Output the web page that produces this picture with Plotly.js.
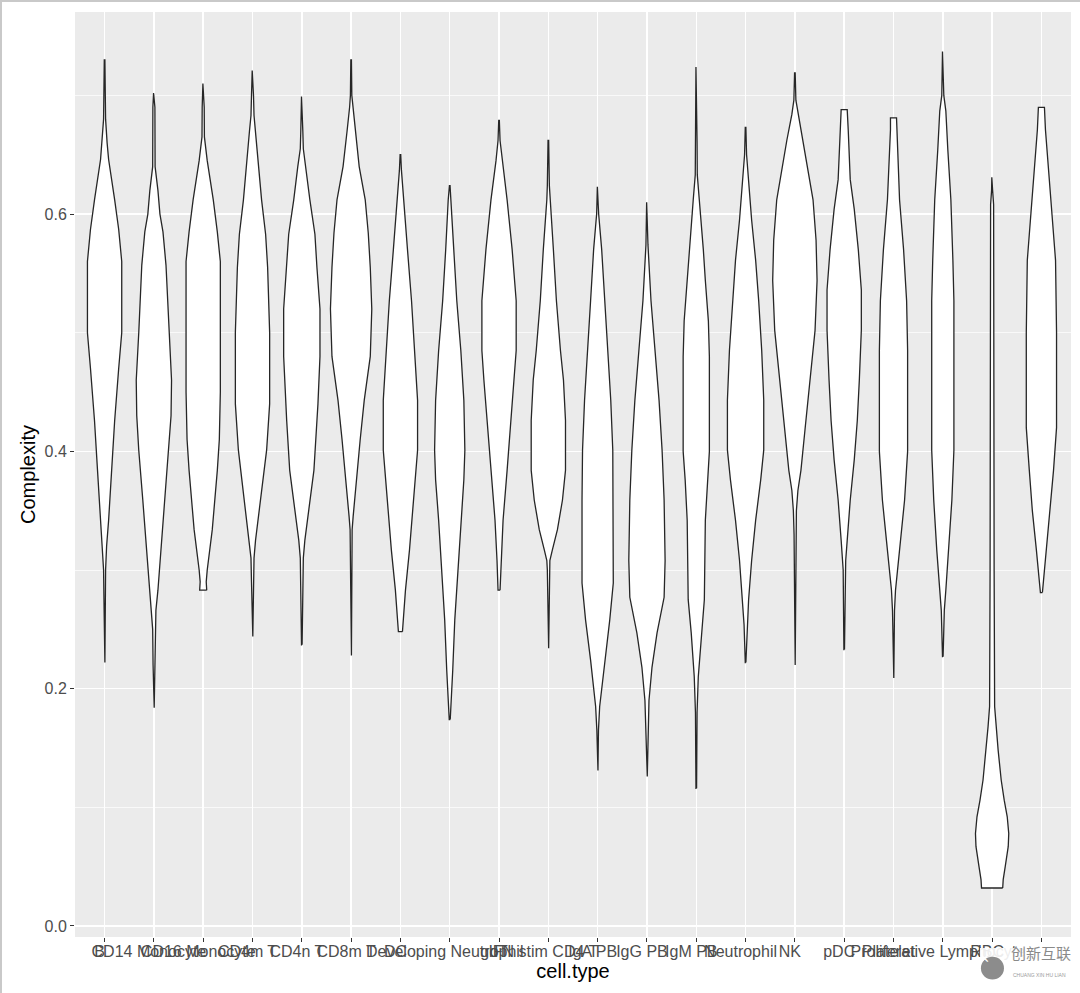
<!DOCTYPE html>
<html>
<head>
<meta charset="utf-8">
<script src="https://cdn.plot.ly/plotly-3.0.1.min.js"></script>
<style>
  html, body { margin: 0; padding: 0; background: #fff; }
  #chart { width: 1080px; height: 993px; position: relative; }
  #frame { position: absolute; left: 0; top: 0; width: 1080px; height: 993px;
           border-left: 2px solid #c9c9c9; border-top: 2px solid #c9c9c9;
           box-sizing: border-box; pointer-events: none; z-index: 10; }
</style>
</head>
<body>
<div id="chart"></div>
<div id="frame"></div>
<script>
// ---- data ----
const categories = ["B", "CD14 Monocyte", "CD16 Monocyte", "CD4m T", "CD4n T", "CD8m T", "DC",
  "Developing Neutrophil", "gdT", "IFN stim CD4 T", "IgA PB", "IgG PB", "IgM PB", "Neutrophil",
  "NK", "pDC", "Platelet", "Proliferative Lymphocyte", "RBC", "SC & Eosinophil"];

const yTickVals = [0, 0.2, 0.4, 0.6];
const yTickText = ["0.0", "0.2", "0.4", "0.6"];
const yMinorVals = [0.1, 0.3, 0.5, 0.7];

// Complexity levels (bottom -> top) for each violin outline
const profileLevels = [
  [0.222, 0.28, 0.30, 0.32, 0.342, 0.384, 0.426, 0.47, 0.50, 0.56, 0.587, 0.612, 0.646, 0.66, 0.68, 0.73],
  [0.184, 0.22, 0.25, 0.266, 0.283, 0.317, 0.359, 0.401, 0.43, 0.46, 0.50, 0.557, 0.585, 0.60, 0.62, 0.64, 0.69, 0.702],
  [0.283, 0.29, 0.30, 0.334, 0.384, 0.41, 0.45, 0.56, 0.585, 0.612, 0.645, 0.665, 0.69, 0.710],
  [0.244, 0.29, 0.31, 0.325, 0.359, 0.401, 0.44, 0.50, 0.555, 0.583, 0.612, 0.64, 0.67, 0.683, 0.70, 0.721],
  [0.237, 0.27, 0.31, 0.325, 0.359, 0.384, 0.426, 0.44, 0.48, 0.52, 0.555, 0.583, 0.612, 0.64, 0.655, 0.67, 0.699],
  [0.228, 0.30, 0.334, 0.345, 0.376, 0.41, 0.443, 0.48, 0.52, 0.555, 0.584, 0.612, 0.64, 0.67, 0.69, 0.70, 0.730],
  [0.248, 0.262, 0.283, 0.317, 0.359, 0.401, 0.443, 0.485, 0.527, 0.570, 0.612, 0.637, 0.650],
  [0.174, 0.19, 0.216, 0.258, 0.30, 0.342, 0.376, 0.401, 0.443, 0.485, 0.527, 0.570, 0.612, 0.624],
  [0.283, 0.308, 0.342, 0.384, 0.426, 0.46, 0.485, 0.527, 0.570, 0.612, 0.645, 0.662, 0.679],
  [0.234, 0.30, 0.308, 0.317, 0.334, 0.359, 0.384, 0.426, 0.46, 0.485, 0.527, 0.570, 0.612, 0.624, 0.662],
  [0.131, 0.165, 0.185, 0.199, 0.224, 0.258, 0.289, 0.359, 0.401, 0.443, 0.485, 0.527, 0.570, 0.60, 0.623],
  [0.126, 0.163, 0.19, 0.218, 0.247, 0.277, 0.308, 0.359, 0.401, 0.443, 0.485, 0.527, 0.574, 0.610],
  [0.116, 0.18, 0.21, 0.247, 0.275, 0.342, 0.376, 0.40, 0.48, 0.51, 0.544, 0.570, 0.612, 0.633, 0.66, 0.724],
  [0.222, 0.254, 0.275, 0.308, 0.342, 0.376, 0.401, 0.443, 0.485, 0.527, 0.561, 0.595, 0.629, 0.65, 0.673],
  [0.22, 0.33, 0.35, 0.367, 0.384, 0.418, 0.46, 0.502, 0.544, 0.578, 0.612, 0.637, 0.662, 0.684, 0.696, 0.719],
  [0.233, 0.30, 0.308, 0.325, 0.359, 0.393, 0.426, 0.46, 0.502, 0.536, 0.570, 0.604, 0.629, 0.671, 0.688],
  [0.209, 0.266, 0.283, 0.30, 0.325, 0.359, 0.40, 0.485, 0.527, 0.570, 0.612, 0.671, 0.681],
  [0.227, 0.266, 0.283, 0.317, 0.359, 0.401, 0.527, 0.561, 0.612, 0.654, 0.687, 0.700, 0.737],
  [0.032, 0.039, 0.050, 0.067, 0.078, 0.092, 0.106, 0.123, 0.148, 0.168, 0.185, 0.30, 0.608, 0.62, 0.631],
  [0.281, 0.30, 0.317, 0.35, 0.384, 0.42, 0.50, 0.561, 0.604, 0.637, 0.671, 0.690]
];

// relative density at each level (arbitrary units, same scale for all violins)
const profileDensity = [
  [0.3, 0.7, 1, 2, 4, 7, 10, 14, 17, 17, 14, 10, 4, 2.5, 1, 0.3],
  [0.3, 0.8, 1.2, 2, 4, 7, 11, 15, 17, 17.5, 15, 12, 9, 6, 4, 1.2, 1, 0.3],
  [3.5, 3, 4, 9, 14, 16, 17, 17, 14, 10, 4, 1.2, 1, 0.3],
  [0.3, 1, 1.5, 3, 8, 14, 17, 17, 15, 13, 9, 6, 3, 1.5, 1, 0.3],
  [0.3, 1, 1.5, 3, 8, 12, 15, 16, 18, 18, 15, 13, 8, 4, 1.5, 1, 0.3],
  [0.3, 0.7, 1, 2, 5, 9, 13, 19, 20.5, 19, 17, 14, 8, 4, 1.5, 0.7, 0.3],
  [2, 3, 5, 9, 13, 17, 17, 14, 11, 7, 3, 1, 0.3],
  [0.5, 1.5, 3, 5, 8, 11, 14, 15, 14, 11, 7, 4, 1.5, 0.3],
  [1, 2, 4, 8, 12, 15, 17, 17, 13, 8, 3, 1, 0.3],
  [0.3, 1, 1.5, 4, 9, 14, 17, 17, 15, 12, 8, 5, 1.5, 1, 0.3],
  [0.3, 0.8, 2, 4, 7, 12, 15.5, 15.5, 15, 13, 10, 7, 4, 1, 0.3],
  [0.3, 1, 2, 5, 10, 17, 18, 17, 15, 12, 8, 4, 1, 0.3],
  [0.3, 0.8, 2, 5, 8, 9, 11, 13, 13, 12, 9, 7, 3, 1, 0.8, 0.3],
  [0.3, 1.5, 3, 6, 10, 15, 18, 18, 16, 13, 10, 6, 3, 1, 0.3],
  [0.3, 0.8, 1.5, 3, 6, 10, 15, 20, 22, 21, 18, 13, 8, 3, 1, 0.3],
  [0.3, 1, 1.5, 3, 6, 10, 13, 15, 17, 17, 14, 10, 6, 4, 3],
  [0.3, 1, 2, 4, 7, 11, 14, 14, 13, 10, 6, 3, 3],
  [0.3, 1.5, 3, 6, 9, 11, 11, 10, 8, 5, 3, 1, 0.3],
  [10.5, 11, 13, 16, 16.5, 15, 12, 9, 6, 4, 2.5, 2, 1.5, 0.5, 0.3],
  [1, 3, 5, 9, 12, 15, 15, 14, 10, 7, 4, 3]
];

// ---- build violins ----
const maxHalf = 0.45; // ggplot violin width 0.9
let dMax = 0;
profileDensity.forEach(a => a.forEach(v => { if (v > dMax) dMax = v; }));

const traces = categories.map((cat, i) => {
  const pos = i + 1;
  const ys = profileLevels[i];
  const ds = profileDensity[i];
  const xs = [], yy = [];
  for (let k = 0; k < ys.length; k++) { xs.push(pos + ds[k] / dMax * maxHalf); yy.push(ys[k]); }
  for (let k = ys.length - 1; k >= 0; k--) { xs.push(pos - ds[k] / dMax * maxHalf); yy.push(ys[k]); }
  xs.push(xs[0]); yy.push(yy[0]);
  return {
    type: 'scatter', mode: 'lines', x: xs, y: yy, name: cat,
    fill: 'toself', fillcolor: '#FFFFFF',
    line: { color: '#262626', width: 1.3 },
    hoverinfo: 'name', showlegend: false
  };
});

const font = "Liberation Sans, Arial, sans-serif";
const layout = {
  width: 1080, height: 993,
  margin: { l: 75, r: 9, t: 12, b: 56 },
  paper_bgcolor: '#FFFFFF', plot_bgcolor: '#EBEBEB',
  font: { family: font, color: '#4D4D4D', size: 16 },
  showlegend: false,
  xaxis: {
    range: [0.4, categories.length + 0.6],
    tickmode: 'array', tickvals: categories.map((c, i) => i + 1), ticktext: categories,
    tickangle: 0, ticks: 'outside', ticklen: 4, tickcolor: '#333333', tickwidth: 1,
    ticklabelshift: -5, ticklabelstandoff: -4,
    tickfont: { family: font, size: 16, color: '#4D4D4D' },
    showgrid: true, gridcolor: '#FFFFFF', gridwidth: 1.5,
    zeroline: false, showline: false, automargin: false,
    title: { text: 'cell.type', font: { family: font, size: 20, color: '#000000' }, standoff: 0 }
  },
  yaxis: {
    range: [-0.0093, 0.7703],
    tickmode: 'array', tickvals: yTickVals, ticktext: yTickText,
    ticks: 'outside', ticklen: 4, tickcolor: '#333333', tickwidth: 1,
    tickfont: { family: font, size: 16, color: '#4D4D4D' },
    showgrid: true, gridcolor: '#FFFFFF', gridwidth: 1.5,
    minor: { tickmode: 'array', tickvals: yMinorVals, showgrid: true, gridcolor: '#FFFFFF', gridwidth: 0.7, ticks: '' },
    zeroline: false, showline: false, automargin: false,
    title: { text: 'Complexity', font: { family: font, size: 20, color: '#000000' }, standoff: 3 }
  },
  shapes: [
    { type: 'rect', xref: 'paper', yref: 'paper', x0: 0.9086, x1: 1.0095, y0: -0.0119, y1: -0.062,
      fillcolor: 'rgba(255,255,255,0.9)', line: { width: 0 }, layer: 'above' },
    { type: 'circle', xref: 'paper', yref: 'paper', x0: 0.9096, x1: 0.9327, y0: -0.0214, y1: -0.0459,
      fillcolor: '#8c8c8c', line: { width: 0 }, layer: 'above' }
  ],
  annotations: [
    { xref: 'paper', yref: 'paper', x: 0.9211, y: -0.0336, text: '✕', showarrow: false,
      font: { family: font, size: 13, color: '#FFFFFF' } },
    { xref: 'paper', yref: 'paper', x: 0.9375, y: -0.0305, xanchor: 'left', text: '创新互联', showarrow: false,
      font: { family: "Noto Sans CJK SC, sans-serif", size: 15, color: '#8a8a8a' } },
    { xref: 'paper', yref: 'paper', x: 0.9395, y: -0.0470, xanchor: 'left', text: 'CHUANG XIN HU LIAN', showarrow: false,
      font: { family: font, size: 5, color: '#9a9a9a' } }
  ]
};

Plotly.newPlot('chart', traces, layout, { displayModeBar: false, staticPlot: true });
</script>
</body>
</html>
